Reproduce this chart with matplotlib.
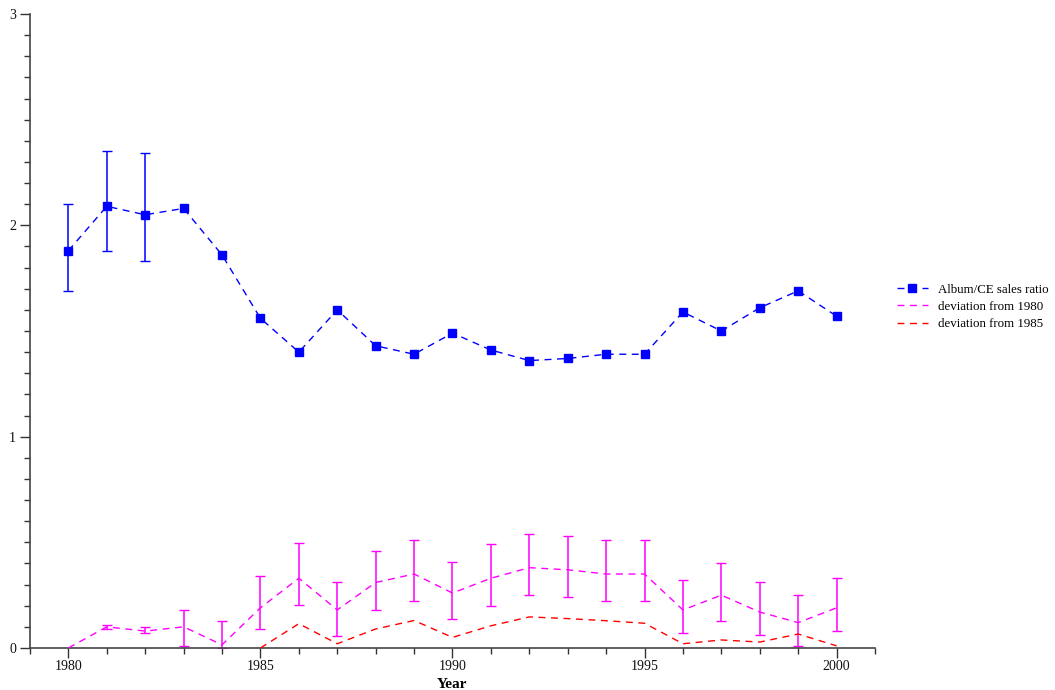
import matplotlib
matplotlib.use("Agg")
import matplotlib.pyplot as plt
import numpy as np
from matplotlib.ticker import MultipleLocator

plt.rcParams['font.family'] = ['Liberation Serif', 'DejaVu Serif']

years = list(range(1980, 2001))

ratio = [1.88, 2.09, 2.05, 2.08, 1.86, 1.56, 1.40, 1.60, 1.43, 1.39, 1.49,
         1.41, 1.36, 1.37, 1.39, 1.39, 1.59, 1.50, 1.61, 1.69, 1.57]
ratio_err_years = [1980, 1981, 1982]
ratio_err_low = [0.19, 0.21, 0.22]
ratio_err_high = [0.22, 0.26, 0.29]

dev1980 = [0.00, 0.10, 0.08, 0.10, 0.015, 0.19, 0.33, 0.18, 0.31, 0.35, 0.26,
           0.33, 0.38, 0.37, 0.35, 0.35, 0.18, 0.25, 0.17, 0.12, 0.19]
dev1980_err_years = list(range(1981, 2001))
dev1980_err_low = [0.01, 0.01, 0.09, 0.015, 0.10, 0.125, 0.125, 0.13, 0.13, 0.125,
                   0.13, 0.13, 0.13, 0.13, 0.13, 0.11, 0.12, 0.11, 0.11, 0.11]
dev1980_err_high = [0.01, 0.02, 0.08, 0.113, 0.15, 0.165, 0.13, 0.15, 0.16, 0.145,
                    0.16, 0.16, 0.16, 0.16, 0.16, 0.14, 0.15, 0.14, 0.13, 0.14]

dev1985_years = list(range(1985, 2001))
dev1985 = [0.00, 0.115, 0.02, 0.09, 0.13, 0.05, 0.105, 0.147, 0.139, 0.129,
           0.117, 0.02, 0.038, 0.028, 0.066, 0.01]

fig = plt.figure(figsize=(10.55, 6.9), dpi=100)
ax = fig.add_axes([0.0284, 0.0609, 0.8010, 0.9188])

blue = '#0000FF'
mag = '#FF00FF'
red = '#FF0000'

ax.plot(years, ratio, color=blue, ls=(0, (5, 4)), lw=1.0, marker='s', ms=5.5,
        mfc=blue, mec=blue, label='Album/CE sales ratio', zorder=3)
ax.errorbar(ratio_err_years, ratio[:3], yerr=[ratio_err_low, ratio_err_high],
            fmt='none', ecolor=blue, elinewidth=1.1, capsize=3.5, capthick=1.0, zorder=2)

ax.plot(years, dev1980, color=mag, ls=(0, (5, 4)), lw=1.0, label='deviation from 1980', zorder=3)
ax.errorbar(dev1980_err_years, dev1980[1:], yerr=[dev1980_err_low, dev1980_err_high],
            fmt='none', ecolor=mag, elinewidth=1.1, capsize=3.5, capthick=1.0, zorder=2)

ax.plot(dev1985_years, dev1985, color=red, ls=(0, (5, 4)), lw=1.0, label='deviation from 1985', zorder=3)

ax.set_xlim(1979, 2001)
ax.set_ylim(0, 3)
ax.xaxis.set_major_locator(MultipleLocator(5))
ax.xaxis.set_minor_locator(MultipleLocator(1))
ax.yaxis.set_major_locator(MultipleLocator(1))
ax.yaxis.set_minor_locator(MultipleLocator(0.1))

for s in ['top', 'right']:
    ax.spines[s].set_visible(False)
for s in ['left', 'bottom']:
    ax.spines[s].set_color('#444444')
    ax.spines[s].set_linewidth(1.2)

ax.tick_params(which='major', direction='out', length=7, width=1.0, color='#333333',
               labelsize=10, labelcolor='#111111')
ax.tick_params(axis='x', which='major', pad=1.5)
ax.tick_params(axis='y', which='major', pad=3)
ax.tick_params(which='minor', direction='out', length=4, width=1.0, color='#333333')

ax.set_xlabel('Year', fontsize=11, fontweight='bold', labelpad=4)

leg = ax.legend(loc='center left', bbox_to_anchor=(1.012, 0.538), frameon=False,
                prop={'size': 9.3}, numpoints=1,
                handlelength=2.4, handletextpad=0.8, labelspacing=0.4)

fig.savefig('out.png', dpi=100)
